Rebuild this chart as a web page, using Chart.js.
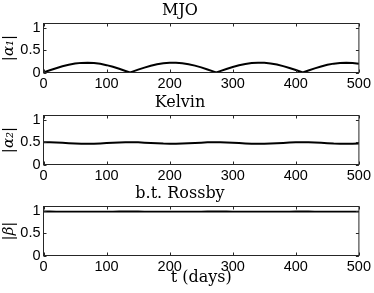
<!DOCTYPE html>
<html>
<head>
<meta charset="utf-8">
<script src="https://cdn.jsdelivr.net/npm/chart.js@4.4.1/dist/chart.umd.min.js"></script>
<style>
  body { margin: 0; background: #fff; }
  #wrap { position: relative; width: 374px; height: 293px; overflow: hidden; }
  canvas { position: absolute; left: 0; }
</style>
</head>
<body>
<div id="wrap">
  <canvas id="mjo" width="374" height="92" style="top:0px"></canvas>
  <canvas id="kelvin" width="374" height="92" style="top:91.5px"></canvas>
  <canvas id="rossby" width="374" height="110" style="top:183px"></canvas>
</div>
<script>
// time axis (days), shared by the three panels
const days = [
	0, 10, 20, 30, 40, 50, 60, 70, 80, 90, 100, 110, 120, 130, 137,
	140, 150, 160, 170, 180, 190, 200, 210, 220, 230, 240, 250, 260, 270, 274,
	280, 290, 300, 310, 320, 330, 340, 350, 360, 370, 380, 390, 400, 410, 411,
	420, 430, 440, 450, 460, 470, 480, 490, 500,
];

// |alpha_1| - MJO amplitude
const mjoAmp = [
	0, 0.05, 0.097, 0.14, 0.175, 0.2, 0.216, 0.22, 0.212, 0.194, 0.165, 0.128, 0.084, 0.035, 0,
	0.015, 0.065, 0.11, 0.151, 0.183, 0.207, 0.218, 0.219, 0.208, 0.187, 0.155, 0.115, 0.069, 0.02, 0,
	0.03, 0.079, 0.124, 0.162, 0.192, 0.211, 0.22, 0.217, 0.203, 0.178, 0.143, 0.102, 0.055, 0.005, 0,
	0.045, 0.093, 0.136, 0.172, 0.199, 0.215, 0.22, 0.214, 0.196,
];

// |alpha_2| - Kelvin amplitude
const kelvinAmp = [
	0.5, 0.498, 0.493, 0.486, 0.478, 0.471, 0.466, 0.465, 0.467, 0.473, 0.48, 0.488, 0.495, 0.499, 0.5,
	0.5, 0.497, 0.491, 0.483, 0.476, 0.469, 0.466, 0.465, 0.469, 0.475, 0.483, 0.49, 0.497, 0.5, 0.5,
	0.499, 0.495, 0.489, 0.481, 0.473, 0.468, 0.465, 0.466, 0.47, 0.477, 0.485, 0.493, 0.498, 0.5, 0.5,
	0.499, 0.494, 0.487, 0.479, 0.471, 0.467, 0.465, 0.467, 0.472,
];

// |beta| - barotropic Rossby amplitude
const rossbyAmp = [
	0.988, 0.988, 0.987, 0.987, 0.986, 0.985, 0.985, 0.984, 0.985, 0.985, 0.986, 0.987, 0.988, 0.988, 0.988,
	0.988, 0.988, 0.987, 0.986, 0.985, 0.985, 0.984, 0.984, 0.985, 0.985, 0.986, 0.987, 0.988, 0.988, 0.988,
	0.988, 0.988, 0.987, 0.986, 0.985, 0.985, 0.984, 0.984, 0.985, 0.986, 0.986, 0.987, 0.988, 0.988, 0.988,
	0.988, 0.987, 0.987, 0.986, 0.985, 0.984, 0.984, 0.985, 0.985,
];

const yTicks = [0, 0.5, 1];
const xTicks = [0, 100, 200, 300, 400, 500];

// MATLAB style box: full frame + short inward ticks on all four sides
const frameTicks = {
	id: "frameTicks",
	afterDraw(chart) {
		const { ctx, chartArea: a, scales } = chart;
		const x = scales.x, y = scales.y;
		ctx.save();
		ctx.strokeStyle = "#262626";
		ctx.lineWidth = 1;
		ctx.strokeRect(a.left, a.top, a.right - a.left, a.bottom - a.top);
		ctx.beginPath();
		xTicks.forEach((v) => {
			const px = Math.round(x.getPixelForValue(v)) + 0.5;
			ctx.moveTo(px, a.bottom); ctx.lineTo(px, a.bottom - 3);
			ctx.moveTo(px, a.top); ctx.lineTo(px, a.top + 3);
		});
		yTicks.forEach((v) => {
			const py = Math.round(y.getPixelForValue(v)) + 0.5;
			ctx.moveTo(a.left, py); ctx.lineTo(a.left + 3, py);
			ctx.moveTo(a.right, py); ctx.lineTo(a.right - 3, py);
		});
		ctx.stroke();
		ctx.restore();
	},
};

const tickFont = { family: "Liberation Sans", size: 14.5 };

function makePanel(id, title, yLabel, values, opts) {
	const xTitle = opts.xTitle || "";
	new Chart(document.getElementById(id), {
		type: "line",
		data: {
			datasets: [{
				data: days.map((d, i) => ({ x: d, y: values[i] })),
				borderColor: "#000",
				borderWidth: opts.lw,
				pointRadius: 0,
				tension: 0,
				fill: false,
			}],
		},
		options: {
			responsive: false,
			animation: false,
			layout: { padding: { top: 0, left: 0, right: 14, bottom: opts.padBottom } },
			plugins: {
				legend: { display: false },
				tooltip: { enabled: false },
				title: {
					display: true,
					text: title,
					color: "#000",
					font: { family: "DejaVu Serif", size: 16, weight: "normal" },
					padding: { top: 1, bottom: 3.3 },
				},
			},
			scales: {
				x: {
					type: "linear",
					min: 0,
					max: 500,
					grid: { display: false, drawTicks: false },
					border: { display: false },
					afterBuildTicks: (s) => { s.ticks = xTicks.map((v) => ({ value: v })); },
					ticks: { color: "#000", font: tickFont, padding: 3, maxRotation: 0 },
					title: {
						display: !!xTitle,
						text: xTitle,
						color: "#000",
						font: { family: "DejaVu Serif", size: 16 },
						padding: 0,
					},
					afterFit: (s) => { s.height = opts.xh; },
				},
				y: {
					min: 0,
					max: 1.1,
					grid: { display: false, drawTicks: false },
					border: { display: false },
					afterBuildTicks: (s) => { s.ticks = yTicks.map((v) => ({ value: v })); },
					ticks: { color: "#000", font: tickFont, padding: 3, callback: (v) => String(v) },
					title: {
						display: true,
						text: yLabel,
						color: "#000",
						font: { family: "DejaVu Serif", size: 15, style: "italic" },
						padding: 0,
					},
					afterFit: (s) => { s.width = 43.5; },
				},
			},
		},
		plugins: [frameTicks],
	});
}

makePanel("mjo", "MJO", "|α₁|", mjoAmp, { lw: 2, xh: 19.5, padBottom: 0 });
makePanel("kelvin", "Kelvin", "|α₂|", kelvinAmp, { lw: 2, xh: 19.5, padBottom: 0 });
makePanel("rossby", "b.t. Rossby", "|β|", rossbyAmp, { lw: 1.8, xh: 32, padBottom: 5.5, xTitle: "t (days)" });
</script>
</body>
</html>
